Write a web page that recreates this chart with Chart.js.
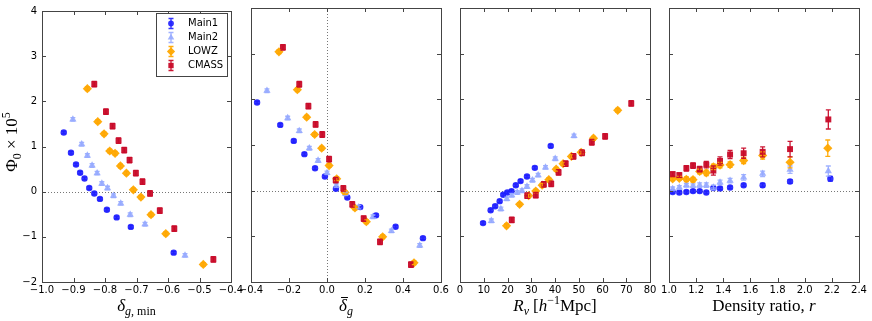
<!DOCTYPE html>
<html><head><meta charset="utf-8">
<script src="https://cdn.jsdelivr.net/npm/chart.js@4.4.0/dist/chart.umd.min.js"></script>
<style>
html,body{margin:0;padding:0;background:#fff;}
#wrap{position:relative;width:872px;height:321px;}
canvas{position:absolute;left:0;top:0;}
</style>
</head><body>
<div id="wrap">
<canvas id="c1" width="872" height="321"></canvas>
<canvas id="c2" width="872" height="321"></canvas>
<canvas id="c3" width="872" height="321"></canvas>
<canvas id="c4" width="872" height="321"></canvas>
</div>
<script>
// ---------------- DATA ----------------
const seriesNames = ['Main1', 'Main2', 'LOWZ', 'CMASS'];
const yTicks = [-2, -1, 0, 1, 2, 3, 4];

// Panel 1: delta_g,min
const p1Ticks = [-1.0, -0.9, -0.8, -0.7, -0.6, -0.5, -0.4];
const p1Main1X = [-0.931, -0.908, -0.892, -0.879, -0.865, -0.850, -0.834, -0.816, -0.794, -0.763, -0.718, -0.582];
const p1Main1Y = [1.31, 0.86, 0.60, 0.42, 0.29, 0.08, -0.04, -0.16, -0.40, -0.57, -0.78, -1.35];
const p1Main1E = [0.03, 0.03, 0.03, 0.03, 0.03, 0.03, 0.03, 0.03, 0.03, 0.03, 0.03, 0.03];
const p1Main2X = [-0.902, -0.874, -0.856, -0.841, -0.825, -0.810, -0.792, -0.773, -0.750, -0.720, -0.673, -0.546];
const p1Main2Y = [1.60, 1.05, 0.80, 0.58, 0.41, 0.18, 0.08, -0.09, -0.26, -0.51, -0.72, -1.41];
const p1Main2E = [0.04, 0.04, 0.04, 0.04, 0.04, 0.04, 0.04, 0.04, 0.04, 0.04, 0.04, 0.04];
const p1LowzX = [-0.856, -0.823, -0.803, -0.785, -0.768, -0.751, -0.732, -0.710, -0.686, -0.654, -0.607, -0.488];
const p1LowzY = [2.28, 1.55, 1.28, 0.90, 0.85, 0.57, 0.41, 0.04, -0.12, -0.51, -0.93, -1.61];
const p1LowzE = [0.04, 0.04, 0.04, 0.04, 0.04, 0.04, 0.04, 0.04, 0.04, 0.04, 0.04, 0.04];
const p1CmassX = [-0.834, -0.797, -0.776, -0.757, -0.739, -0.722, -0.702, -0.681, -0.657, -0.626, -0.580, -0.456];
const p1CmassY = [2.38, 1.77, 1.45, 1.13, 0.92, 0.70, 0.41, 0.22, -0.04, -0.42, -0.82, -1.50];
const p1CmassE = [0.06, 0.06, 0.06, 0.06, 0.06, 0.06, 0.06, 0.06, 0.06, 0.06, 0.06, 0.06];

// Panel 2: mean delta_g
const p2Ticks = [-0.4, -0.2, 0.0, 0.2, 0.4, 0.6];
const p2Main1X = [-0.368, -0.246, -0.175, -0.119, -0.063, -0.011, 0.047, 0.107, 0.175, 0.258, 0.361, 0.505];
const p2Main1Y = [1.93, 1.44, 1.09, 0.80, 0.49, 0.31, 0.04, -0.15, -0.36, -0.54, -0.79, -1.04];
const p2Main1E = [0.03, 0.03, 0.03, 0.03, 0.03, 0.03, 0.03, 0.03, 0.03, 0.03, 0.03, 0.03];
const p2Main2X = [-0.316, -0.207, -0.146, -0.093, -0.047, 0.000, 0.049, 0.098, 0.167, 0.242, 0.339, 0.488];
const p2Main2Y = [2.19, 1.59, 1.31, 0.93, 0.66, 0.39, 0.11, -0.07, -0.36, -0.57, -0.88, -1.20];
const p2Main2E = [0.04, 0.04, 0.04, 0.04, 0.04, 0.04, 0.04, 0.04, 0.04, 0.04, 0.04, 0.04];
const p2LowzX = [-0.253, -0.156, -0.107, -0.065, -0.028, 0.011, 0.051, 0.095, 0.147, 0.207, 0.293, 0.458];
const p2LowzY = [3.04, 2.21, 1.61, 1.23, 0.93, 0.55, 0.26, -0.04, -0.38, -0.68, -1.01, -1.58];
const p2LowzE = [0.04, 0.04, 0.04, 0.04, 0.04, 0.04, 0.04, 0.04, 0.04, 0.04, 0.04, 0.04];
const p2CmassX = [-0.232, -0.146, -0.098, -0.060, -0.025, 0.011, 0.046, 0.086, 0.133, 0.193, 0.279, 0.442];
const p2CmassY = [3.14, 2.33, 1.85, 1.45, 1.23, 0.69, 0.23, 0.05, -0.30, -0.61, -1.12, -1.62];
const p2CmassE = [0.06, 0.06, 0.06, 0.06, 0.06, 0.06, 0.06, 0.06, 0.06, 0.06, 0.06, 0.06];

// Panel 3: R_v
const p3Ticks = [0, 10, 20, 30, 40, 50, 60, 70, 80];
const p3Main1X = [9.7, 12.9, 14.8, 16.7, 18.2, 19.9, 21.7, 23.5, 25.5, 28.2, 31.5, 38.2];
const p3Main1Y = [-0.71, -0.43, -0.34, -0.23, -0.09, -0.04, -0.01, 0.12, 0.21, 0.31, 0.50, 0.98];
const p3Main1E = [0.03, 0.03, 0.03, 0.03, 0.03, 0.03, 0.03, 0.03, 0.03, 0.03, 0.03, 0.03];
const p3Main2X = [13.2, 17.2, 19.7, 21.8, 24.1, 26.1, 28.2, 30.5, 32.9, 36.0, 40.1, 48.0];
const p3Main2Y = [-0.66, -0.40, -0.18, -0.10, -0.04, 0.00, 0.09, 0.23, 0.34, 0.51, 0.70, 1.20];
const p3Main2E = [0.04, 0.04, 0.04, 0.04, 0.04, 0.04, 0.04, 0.04, 0.04, 0.04, 0.04, 0.04];
const p3LowzX = [19.6, 25.1, 28.9, 31.9, 34.6, 37.4, 40.5, 43.4, 46.9, 51.0, 56.2, 66.4];
const p3LowzY = [-0.77, -0.30, -0.11, -0.01, 0.12, 0.24, 0.47, 0.59, 0.75, 0.84, 1.15, 1.76];
const p3LowzE = [0.04, 0.04, 0.04, 0.04, 0.04, 0.04, 0.04, 0.04, 0.04, 0.04, 0.04, 0.04];
const p3CmassX = [21.8, 28.3, 31.9, 35.3, 38.4, 41.5, 44.5, 47.8, 51.4, 55.5, 61.1, 72.1];
const p3CmassY = [-0.64, -0.11, -0.10, 0.14, 0.15, 0.40, 0.59, 0.75, 0.83, 1.06, 1.19, 1.91];
const p3CmassE = [0.06, 0.06, 0.06, 0.06, 0.06, 0.06, 0.06, 0.06, 0.06, 0.06, 0.06, 0.06];

// Panel 4: density ratio r
const p4Ticks = [1.0, 1.2, 1.4, 1.6, 1.8, 2.0, 2.2, 2.4];
const p4Main1X = [1.027, 1.076, 1.128, 1.177, 1.226, 1.275, 1.327, 1.376, 1.450, 1.550, 1.690, 1.892, 2.189];
const p4Main1Y = [-0.03, -0.04, -0.03, -0.01, -0.01, -0.04, 0.06, 0.05, 0.07, 0.12, 0.12, 0.20, 0.26];
const p4Main1E = [0.03, 0.03, 0.03, 0.03, 0.03, 0.03, 0.03, 0.03, 0.03, 0.03, 0.04, 0.04, 0.05];
const p4Main2X = [1.027, 1.076, 1.128, 1.177, 1.226, 1.275, 1.327, 1.376, 1.450, 1.550, 1.690, 1.892, 2.174];
const p4Main2Y = [0.04, 0.07, 0.12, 0.11, 0.12, 0.12, 0.07, 0.18, 0.22, 0.29, 0.37, 0.46, 0.43];
const p4Main2E = [0.04, 0.04, 0.04, 0.04, 0.05, 0.05, 0.05, 0.05, 0.05, 0.06, 0.06, 0.08, 0.11];
const p4LowzX = [1.027, 1.076, 1.128, 1.177, 1.226, 1.275, 1.327, 1.376, 1.450, 1.550, 1.690, 1.892, 2.170];
const p4LowzY = [0.26, 0.27, 0.25, 0.24, 0.42, 0.39, 0.52, 0.56, 0.57, 0.66, 0.77, 0.62, 0.93];
const p4LowzE = [0.04, 0.04, 0.05, 0.05, 0.05, 0.06, 0.06, 0.06, 0.06, 0.07, 0.08, 0.12, 0.18];
const p4CmassX = [1.027, 1.076, 1.128, 1.177, 1.226, 1.275, 1.327, 1.376, 1.450, 1.550, 1.690, 1.892, 2.174];
const p4CmassY = [0.36, 0.34, 0.49, 0.55, 0.47, 0.57, 0.44, 0.65, 0.79, 0.82, 0.85, 0.91, 1.56];
const p4CmassE = [0.05, 0.05, 0.06, 0.06, 0.06, 0.07, 0.10, 0.09, 0.09, 0.11, 0.11, 0.17, 0.21];

// ---------------- STYLE ----------------
const seriesStyle = [
  { color: 'rgba(30,30,255,0.9)', shape: 'circle', r: 3.2 },
  { color: 'rgba(150,170,255,0.9)', shape: 'triangle', r: 4.2 },
  { color: 'rgba(255,168,0,0.95)', shape: 'rectRot', r: 4.6 },
  { color: 'rgba(200,10,40,0.95)', shape: 'rect', r: 4.2 }
];
const FRAME = '#444';
const TICKFONT = { family: 'DejaVu Sans', size: 10 };
const SERIF = '"Liberation Serif", "DejaVu Serif", serif';
const fmt = (v, d) => {
  let s = Math.abs(v) < 1e-9 ? (0).toFixed(d) : v.toFixed(d);
  return s.replace('-', '\u2212');
};

function drawRich(ctx, segs, cx, baseY, rotate) {
  ctx.save();
  let total = 0;
  segs.forEach(s => { ctx.font = s.font; s.w = ctx.measureText(s.t).width; total += s.w + (s.gap || 0); });
  let x = -total / 2;
  ctx.translate(cx, baseY);
  if (rotate) ctx.rotate(-Math.PI / 2);
  ctx.fillStyle = '#000';
  ctx.textBaseline = 'alphabetic';
  ctx.textAlign = 'left';
  segs.forEach(s => {
    ctx.font = s.font;
    ctx.fillText(s.t, x, s.dy || 0);
    if (s.bar) {
      ctx.strokeStyle = '#000'; ctx.lineWidth = 1;
      ctx.beginPath(); ctx.moveTo(x + 2, -13.5); ctx.lineTo(x + s.w + 1, -13.5); ctx.stroke();
    }
    x += s.w + (s.gap || 0);
  });
  ctx.restore();
}

const panelPlugin = {
  id: 'panelPlugin',
  beforeDatasetsDraw(chart) {
    const o = chart.options.plugins.panelPlugin;
    const { ctx, chartArea: a, scales: { x, y } } = chart;
    ctx.save();
    ctx.strokeStyle = '#777'; ctx.lineWidth = 1; ctx.setLineDash([1, 2]);
    const y0 = Math.round(y.getPixelForValue(0)) + 0.5;
    ctx.beginPath(); ctx.moveTo(a.left, y0); ctx.lineTo(a.right, y0); ctx.stroke();
    if (o.vline) {
      const x0 = Math.round(x.getPixelForValue(0)) + 0.5;
      ctx.beginPath(); ctx.moveTo(x0, a.top); ctx.lineTo(x0, a.bottom); ctx.stroke();
    }
    ctx.restore();
  },
  afterDatasetsDraw(chart) {
    const o = chart.options.plugins.panelPlugin;
    const { ctx, chartArea: a, scales: { x, y } } = chart;
    // error bars
    chart.data.datasets.forEach((ds, i) => {
      const meta = chart.getDatasetMeta(i);
      ctx.save();
      ctx.strokeStyle = ds.borderColor; ctx.lineWidth = 1.3;
      meta.data.forEach((pt, j) => {
        const e = ds.errs[j];
        const v = ds.data[j].y;
        const yt = y.getPixelForValue(v + e), yb = y.getPixelForValue(v - e);
        ctx.beginPath();
        ctx.moveTo(pt.x, yt); ctx.lineTo(pt.x, yb);
        ctx.moveTo(pt.x - 2.5, yt); ctx.lineTo(pt.x + 2.5, yt);
        ctx.moveTo(pt.x - 2.5, yb); ctx.lineTo(pt.x + 2.5, yb);
        ctx.stroke();
      });
      ctx.restore();
    });
    // frame + inner ticks
    ctx.save();
    ctx.strokeStyle = FRAME; ctx.lineWidth = 1;
    ctx.strokeRect(Math.round(a.left) + 0.5, Math.round(a.top) + 0.5, Math.round(a.right - a.left), Math.round(a.bottom - a.top));
    ctx.beginPath();
    x.ticks.forEach(t => {
      const px = Math.round(x.getPixelForValue(t.value)) + 0.5;
      ctx.moveTo(px, a.bottom); ctx.lineTo(px, a.bottom - 4);
      ctx.moveTo(px, a.top); ctx.lineTo(px, a.top + 4);
    });
    y.ticks.forEach(t => {
      const py = Math.round(y.getPixelForValue(t.value)) + 0.5;
      ctx.moveTo(a.left, py); ctx.lineTo(a.left + 4, py);
      ctx.moveTo(a.right, py); ctx.lineTo(a.right - 4, py);
    });
    ctx.stroke();
    ctx.restore();
    // axis titles
    drawRich(ctx, o.xTitle, (a.left + a.right) / 2, 311, false);
    if (o.yTitle) drawRich(ctx, o.yTitle, 17, 142, true);
    // legend
    if (o.legend) {
      ctx.save();
      const bx = 156, by = 13, bw = 71, bh = 63;
      ctx.fillStyle = '#fff';
      ctx.fillRect(bx, by, bw, bh);
      ctx.strokeStyle = FRAME; ctx.lineWidth = 1;
      ctx.strokeRect(bx + 0.5, by + 0.5, bw, bh);
      chart.data.datasets.forEach((ds, i) => {
        const ly = 23.5 + i * 14;
        const lx = 171;
        ctx.strokeStyle = ds.borderColor; ctx.lineWidth = 1.3;
        ctx.beginPath();
        ctx.moveTo(lx, ly - 5); ctx.lineTo(lx, ly + 5);
        ctx.moveTo(lx - 2.5, ly - 5); ctx.lineTo(lx + 2.5, ly - 5);
        ctx.moveTo(lx - 2.5, ly + 5); ctx.lineTo(lx + 2.5, ly + 5);
        ctx.stroke();
        ctx.fillStyle = ds.backgroundColor;
        ctx.strokeStyle = ds.borderColor;
        ctx.lineWidth = 0;
        Chart.helpers.drawPoint(ctx, { pointStyle: ds.pointStyle, radius: ds.pointRadius * 0.9, rotation: 0, borderWidth: 0 }, lx, ly);
        ctx.fillStyle = '#000';
        ctx.font = '10px "DejaVu Sans"';
        ctx.textBaseline = 'middle';
        ctx.fillText(ds.label, 188, ly);
      });
      ctx.restore();
    }
  }
};

function makeDatasets(xs, ys, es) {
  return seriesNames.map((name, i) => ({
    label: name,
    data: xs[i].map((xv, j) => ({ x: xv, y: ys[i][j] })),
    errs: es[i],
    pointStyle: seriesStyle[i].shape,
    pointRadius: seriesStyle[i].r,
    pointHoverRadius: seriesStyle[i].r,
    backgroundColor: seriesStyle[i].color,
    borderColor: seriesStyle[i].color,
    borderWidth: 0,
    showLine: false,
    order: 3 - i
  }));
}

function makeChart(id, p) {
  const left = p.left, right = p.right;
  return new Chart(document.getElementById(id), {
    type: 'scatter',
    data: { datasets: makeDatasets(p.xs, p.ys, p.es) },
    options: {
      responsive: false,
      animation: false,
      events: [],
      layout: { padding: { left: p.showY ? 0 : left, right: 872 - right, top: 8, bottom: 0 } },
      plugins: {
        legend: { display: false },
        tooltip: { enabled: false },
        panelPlugin: { vline: p.vline, xTitle: p.xTitle, yTitle: p.yTitle, legend: p.legend }
      },
      scales: {
        x: {
          type: 'linear', min: p.ticks[0], max: p.ticks[p.ticks.length - 1],
          afterBuildTicks: s => { s.ticks = p.ticks.map(v => ({ value: v })); },
          afterFit: s => { s.height = 39; },
          grid: { display: false, drawTicks: false },
          border: { display: false },
          ticks: { autoSkip: false, maxRotation: 0, padding: 2, color: '#000', font: TICKFONT, callback: v => fmt(v, p.dec) }
        },
        y: {
          type: 'linear', min: -2, max: 4,
          afterBuildTicks: s => { s.ticks = yTicks.map(v => ({ value: v })); },
          afterFit: s => { s.width = p.showY ? left : 0; },
          grid: { display: false, drawTicks: false },
          border: { display: false },
          ticks: { display: p.showY, padding: 5, color: '#000', font: TICKFONT, callback: v => fmt(v, 0) }
        }
      }
    },
    plugins: [panelPlugin]
  });
}

const it = (sz) => 'italic ' + sz + 'px ' + SERIF;
const rm = (sz) => sz + 'px ' + SERIF;

makeChart('c1', {
  left: 42, right: 231, showY: true, dec: 1, ticks: p1Ticks, legend: true,
  xs: [p1Main1X, p1Main2X, p1LowzX, p1CmassX],
  ys: [p1Main1Y, p1Main2Y, p1LowzY, p1CmassY],
  es: [p1Main1E, p1Main2E, p1LowzE, p1CmassE],
  xTitle: [{ t: 'δ', font: it(17) }, { t: 'g', font: it(12), dy: 4 }, { t: ', min', font: rm(12), dy: 4 }],
  yTitle: [{ t: 'Φ', font: rm(17) }, { t: '0', font: rm(12), dy: 4 }, { t: ' × 10', font: rm(17) }, { t: '5', font: rm(12), dy: -7 }]
});
makeChart('c2', {
  left: 251, right: 441, showY: false, dec: 1, ticks: p2Ticks, vline: true,
  xs: [p2Main1X, p2Main2X, p2LowzX, p2CmassX],
  ys: [p2Main1Y, p2Main2Y, p2LowzY, p2CmassY],
  es: [p2Main1E, p2Main2E, p2LowzE, p2CmassE],
  xTitle: [{ t: 'δ', font: it(17), bar: true }, { t: 'g', font: it(12), dy: 4 }]
});
makeChart('c3', {
  left: 460, right: 650, showY: false, dec: 0, ticks: p3Ticks,
  xs: [p3Main1X, p3Main2X, p3LowzX, p3CmassX],
  ys: [p3Main1Y, p3Main2Y, p3LowzY, p3CmassY],
  es: [p3Main1E, p3Main2E, p3LowzE, p3CmassE],
  xTitle: [{ t: 'R', font: it(17) }, { t: 'v', font: it(12), dy: 4, gap: 4 }, { t: '[', font: rm(17) }, { t: 'h', font: it(17) },
           { t: '−1', font: rm(12), dy: -7 }, { t: 'Mpc]', font: rm(17) }]
});
makeChart('c4', {
  left: 669, right: 859, showY: false, dec: 1, ticks: p4Ticks,
  xs: [p4Main1X, p4Main2X, p4LowzX, p4CmassX],
  ys: [p4Main1Y, p4Main2Y, p4LowzY, p4CmassY],
  es: [p4Main1E, p4Main2E, p4LowzE, p4CmassE],
  xTitle: [{ t: 'Density ratio, ', font: rm(17) }, { t: 'r', font: it(17) }]
});
</script>
</body></html>
